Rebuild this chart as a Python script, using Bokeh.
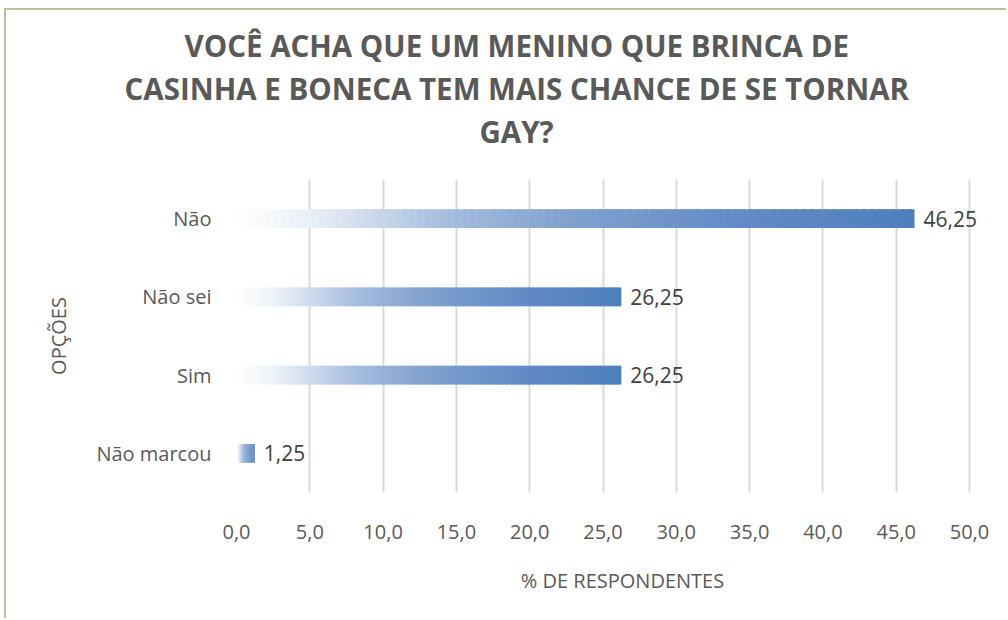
from bokeh.plotting import figure
from bokeh.models import FactorRange, Range1d, FixedTicker, Title
from bokeh.embed import file_html
from bokeh.resources import INLINE
from bokeh.core.properties import value

# ---- data ----
categories = ["Não", "Não sei", "Sim", "Não marcou"]
percentages = [46.25, 26.25, 26.25, 1.25]
value_labels = ["46,25", "26,25", "26,25", "1,25"]
x_ticks = [0, 5, 10, 15, 20, 25, 30, 35, 40, 45, 50]
x_tick_labels = ["0,0", "5,0", "10,0", "15,0", "20,0", "25,0", "30,0", "35,0", "40,0", "45,0", "50,0"]
title_lines = [
    "VOCÊ ACHA QUE UM MENINO QUE BRINCA DE",
    "CASINHA E BONECA TEM MAIS CHANCE DE SE TORNAR",
    "GAY?",
]
x_axis_title = "% DE RESPONDENTES"
y_axis_title = "OPÇÕES"

FONT = "Open Sans"
GRAY = "#595959"

p = figure(
    width=1002, height=610,
    y_range=FactorRange(factors=list(reversed(categories))),
    x_range=Range1d(0, 52.66),
    output_backend="svg", toolbar_location=None,
    min_border_left=230, min_border_right=0,
    min_border_top=169, min_border_bottom=128,
    styles={"border-top": "2px solid #c4bd97", "border-left": "2px solid #c4bd97",
            "margin-left": "4px", "margin-top": "8px"},
)
p.outline_line_color = None
p.background_fill_color = "white"
p.border_fill_color = "white"

# gridlines
p.ygrid.grid_line_color = None
p.xgrid.grid_line_color = "#d9d9d9"
p.xgrid.grid_line_width = 2
p.xaxis.ticker = FixedTicker(ticks=x_ticks)
p.xaxis.major_label_overrides = {t: l for t, l in zip(x_ticks, x_tick_labels)}

# gradient bars (built from slices of each data value)
stops = [
    (0.00, (255, 255, 255)),
    (0.10, (236, 241, 248)),
    (0.22, (196, 212, 234)),
    (0.32, (164, 187, 222)),
    (0.50, (126, 160, 206)),
    (0.75, (98, 138, 197)),
    (1.00, (78, 127, 189)),
]


def grad(t):
    for (t0, c0), (t1, c1) in zip(stops[:-1], stops[1:]):
        if t <= t1:
            f = (t - t0) / (t1 - t0)
            return "#%02x%02x%02x" % tuple(int(round(a + (b - a) * f)) for a, b in zip(c0, c1))
    return "#%02x%02x%02x" % stops[-1][1]


N = 90
ys, lefts, rights, colors = [], [], [], []
for cat, v in zip(categories, percentages):
    step = v / N
    for i in range(N):
        ys.append(cat)
        lefts.append(step * i)
        rights.append(min(v, step * (i + 1) + step * 0.6))
        colors.append(grad((i + 0.5) / N))

p.hbar(y=ys, left=lefts, right=rights, height=0.24, fill_color=colors, line_color=None)

# value labels
p.text(x=percentages, y=categories, text=value_labels, x_offset=9,
       text_baseline="middle", text_align="left",
       text_font=value(FONT), text_font_size="21px", text_color="#404040")

# axes
for ax in (p.xaxis, p.yaxis):
    ax.axis_line_color = None
    ax.major_tick_line_color = None
    ax.minor_tick_line_color = None
    ax.major_tick_out = 0
    ax.major_tick_in = 0
    ax.major_label_text_font = FONT
    ax.major_label_text_font_size = "20px"
    ax.major_label_text_color = GRAY
    ax.axis_label_text_font = FONT
    ax.axis_label_text_font_size = "20px"
    ax.axis_label_text_font_style = "normal"
    ax.axis_label_text_color = GRAY

p.xaxis.axis_label = x_axis_title
p.yaxis.axis_label = y_axis_title
p.xaxis.major_label_standoff = 32
p.xaxis.axis_label_standoff = 25
p.yaxis.major_label_standoff = 25
p.yaxis.axis_label_standoff = 21

# blank spacer between the plot area and the title block
p.add_layout(Title(text=" ", text_font=FONT, text_font_size="14px", standoff=7), "above")

# title (three lines, stacked outward from the plot, left aligned with offsets)
offsets = [-52, -112, 243]
for line, off in reversed(list(zip(title_lines, offsets))):
    p.add_layout(Title(text=line, align="left", offset=off, standoff=0,
                       text_font=FONT, text_font_size="29.5px", text_font_style="bold",
                       text_color=GRAY), "above")

open("out.html", "w").write(file_html(p, INLINE))
